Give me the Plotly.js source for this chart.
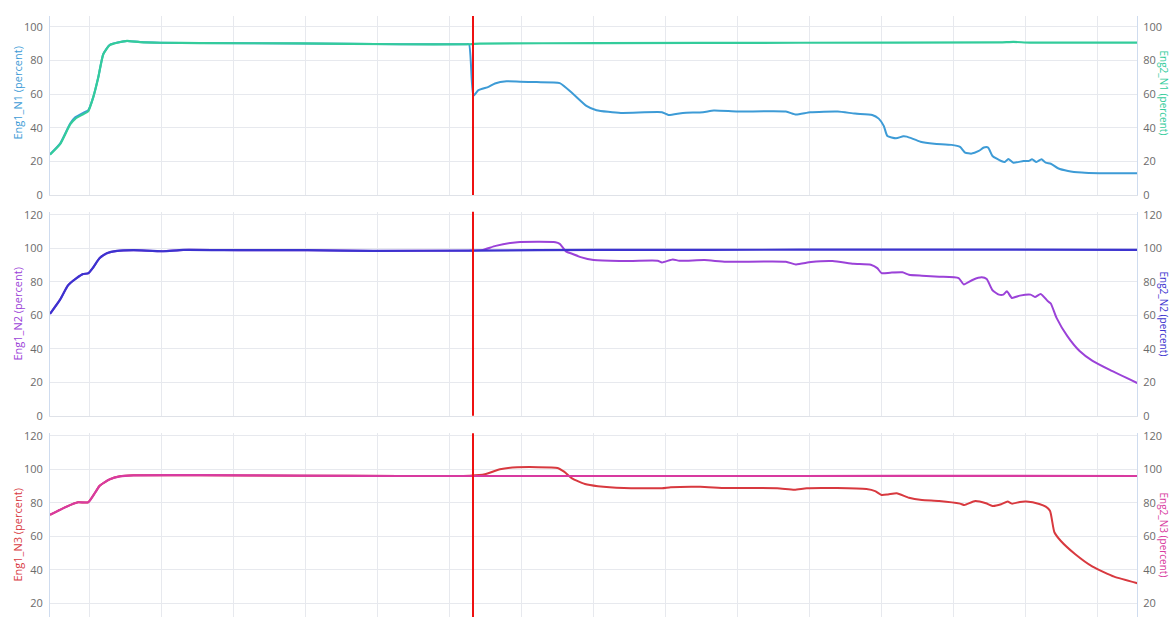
<!DOCTYPE html>
<html>
<head>
<meta charset="utf-8">
<script src="https://cdn.plot.ly/plotly-3.0.1.min.js"></script>
<style>
html,body{margin:0;padding:0;background:#fff;overflow:hidden;}
#chart{width:1169px;height:617px;}
</style>
</head>
<body>
<div id="chart"></div>
<script>
// ---- Data (time in seconds, values in percent) ----
const eng1N1_t = [0,1.4,2.8,3.5,4.6,5.3,6.0,6.7,7.4,8.3,10.2,10.7,12.5,15.3,20.8,34.7,48.6,57.7,58.2,58.8,59.5,60.9,61.8,63.4,65.3,67.6,70.8,72.7,74.5,75.9,79.3,85.0,85.9,87.9,90.7,92.2,95.5,102.2,103.6,105.6,109.4,111.8,114.2,115.1,115.8,116.3,117.5,118.5,119.0,120.9,122.8,125.2,126.4,127.1,128.0,129.0,129.7,130.3,130.9,132.1,132.6,133.1,133.8,135.2,135.9,136.4,137.0,137.7,138.3,139.0,140.0,141.4,143.3,145.7,151];
const eng1N1_v = [24.2,30.5,42.5,46.2,48.8,50.3,58,69.8,83.7,89.3,91.3,91.6,90.9,90.5,90.3,90.1,89.6,89.6,89.6,58.9,62.3,64.3,66.3,67.6,67.3,67.1,66.5,59.9,53,50.4,48.8,49.2,47.6,48.8,49.2,50.2,49.6,49.6,47.8,49.2,49.6,48.4,47.6,45.4,41.1,35.1,33.7,34.9,34.7,31.7,30.5,29.8,28.6,25.2,24.6,26.2,28.2,28.2,23.2,20.2,19.6,21.4,19.2,20.2,20.2,21.2,19.6,21.2,19.2,18.6,15.9,14.3,13.3,12.9,12.9];

const eng2N1_t = [0,1.4,2.8,3.5,4.6,5.3,6.0,6.7,7.4,8.3,10.2,10.7,12.5,15.3,20.8,34.7,48.6,58.3,59.7,76.4,104.2,131.9,133.8,136.1,151];
const eng2N1_v = [24,30.2,42,45.3,48,49.7,58,69.8,83.7,89.1,91.3,91.6,90.9,90.5,90.3,90.1,89.6,89.6,90,90.3,90.5,90.7,91,90.6,90.6];

const eng1N2_t = [0,1.4,2.5,3.7,4.6,5.3,6.0,6.9,7.9,9.3,11.6,15.7,18.5,26.4,35.7,44.9,58.3,60.1,61.9,64.9,70.2,70.8,71.7,72.5,73.7,75.5,79.1,84.4,85.0,86.5,87.4,90.9,93.9,102.2,103.6,105.7,108.7,111.6,114.0,114.9,115.5,116.7,118.4,119.3,121.1,123.5,126.2,126.9,128.2,129.4,130.1,130.9,131.8,132.4,132.9,133.6,134.7,136.2,136.8,137.6,138.6,139.0,139.8,141.3,143.0,144.8,147.2,151];
const eng1N2_v = [60.8,69.3,77.8,82.2,84.6,85,88.5,94.1,97,98.4,98.8,98.2,99,98.8,98.8,98.4,98.6,99,101.4,103.6,103.6,102.6,98,96.7,94.7,92.9,92.3,92.5,91.5,93.3,92.5,92.9,91.9,91.9,90.3,91.7,92.3,90.7,90.1,88.1,85.1,85.4,85.6,84.2,83.6,83,82.2,78.4,81.2,82.6,81.6,74.9,72.3,72.3,74.3,70.3,71.7,72.3,70.9,72.7,68.3,67,58.4,47.5,38.6,32.7,27.3,19.5];

const eng2N2_t = [0,1.4,2.5,3.7,4.6,5.3,6.0,6.9,7.9,9.3,11.6,15.7,18.5,26.4,35.7,44.9,58.8,76.4,104.2,131.9,151];
const eng2N2_v = [60.8,69.3,77.8,82.2,84.6,85,88.5,94.1,97,98.4,98.8,98.2,99,98.8,98.8,98.4,98.6,99,99.1,99.2,99];

const eng1N3_t = [0,2.3,3.9,5.3,6.3,6.9,8.3,9.7,11.6,20.8,34.7,48.6,58.3,60.4,62.5,64.9,70.5,71.4,72.5,74.3,76.1,79.7,85.0,86.2,90.3,93.9,101.0,103.4,105.1,109.3,113.4,114.6,115.5,116.4,117.6,119.3,121.1,123.5,126.4,127.0,128.5,130.0,130.9,132.1,133.0,133.6,134.7,135.6,137.4,138.3,138.9,139.5,140.4,142.4,144.8,147.8,151];
const eng1N3_v = [72.8,77.7,80.3,80.3,86.3,90.2,94,95.8,96.4,96.5,96.2,96,96.2,97,100,101.2,100.8,98.6,94.6,91.2,89.9,88.8,88.7,89.3,89.6,88.8,88.7,87.8,88.7,88.8,88.2,87,84.7,85,85.7,83,81.7,81.1,79.5,78.7,81.1,79.7,78.1,79.1,80.7,79.5,80.5,80.7,79.3,77.7,75.1,62.4,57.2,49.3,41.9,35.9,32];

const eng2N3_t = [0,2.3,3.9,5.3,6.3,6.9,8.3,9.7,11.6,20.8,34.7,48.6,58.8,76.4,104.2,131.9,151];
const eng2N3_v = [72.8,77.7,80.3,80.3,86.3,90.2,94,95.8,96.4,96.5,96.2,96,96,96,96,96.1,96];

const cursorTime = 58.75;
const leftTitles  = ["Eng1_N1 (percent)", "Eng1_N2 (percent)", "Eng1_N3 (percent)"];
const rightTitles = ["Eng2_N1 (percent)", "Eng2_N2 (percent)", "Eng2_N3 (percent)"];

// ---- Styles ----
const C = {
  n1a: "#3d9bd6", n1b: "#33cc9b",
  n2a: "#9b42d8", n2b: "#3c33cf",
  n3a: "#d8393f", n3b: "#d83aa0"
};
const FONT = "Open Sans, Noto Sans, sans-serif";
const W = 1169, H = 617, ML = 50, MR = 32, MT = 16, MB = 0;
const pw = W - ML - MR, ph = H - MT - MB;
const px2x = p => (p - ML) / pw;
const py2y = p => (H - MB - p) / ph;

function line(x, y, xa, ya, color, name, w) {
  return {x: x, y: y, xaxis: xa, yaxis: ya, type: "scatter", mode: "lines",
          name: name, line: {color: color, width: w || 2, shape: "spline", smoothing: 0.5},
          hoverinfo: "x+y+name"};
}

const data = [
  line(eng1N1_t, eng1N1_v, "x", "y", C.n1a, "Eng1_N1"),
  line(eng2N1_t, eng2N1_v, "x", "y2", C.n1b, "Eng2_N1", 2.2),
  line(eng1N2_t, eng1N2_v, "x2", "y3", C.n2a, "Eng1_N2"),
  line(eng2N2_t, eng2N2_v, "x2", "y4", C.n2b, "Eng2_N2", 2.2),
  line(eng1N3_t, eng1N3_v, "x3", "y5", C.n3a, "Eng1_N3"),
  line(eng2N3_t, eng2N3_v, "x3", "y6", C.n3b, "Eng2_N3", 2.2)
];

const gridC = "#e7e9ee";
function xax(anchor, showline) {
  return {anchor: anchor, range: [0, pw / 7.2], showticklabels: false, ticks: "",
          tick0: 5.45, dtick: 10, gridcolor: gridC, gridwidth: 1, zeroline: false,
          showline: showline, linecolor: "#dfe2e8", linewidth: 1, fixedrange: true};
}
function yleft(domain, range) {
  return {domain: domain, range: range, dtick: 20, tick0: 0, gridcolor: gridC, zeroline: false,
          showline: true, linecolor: "#cfdcef", linewidth: 1, ticks: "", ticklabelstandoff: 4,
          tickfont: {family: FONT, size: 11, color: "#6b6b6b"}, fixedrange: true};
}
function yright(over, anchor, range) {
  return {overlaying: over, anchor: anchor, side: "right", range: range, dtick: 20, tick0: 0,
          showgrid: false, zeroline: false, showline: true, linecolor: "#cfdcef", linewidth: 1,
          ticks: "", ticklabelstandoff: 3, tickfont: {family: FONT, size: 11, color: "#6b6b6b"},
          fixedrange: true};
}

const d1 = [py2y(195), 1];
const d2 = [py2y(415.7), py2y(211.7)];
const d3 = [0, py2y(433.3)];
const r1 = [0, 106.4], r2 = [0, 121.8], r3 = [11.8, 121.5];

const titleY = [py2y(93), py2y(314), py2y(535)];
const titleColL = [C.n1a, C.n2a, C.n3a];
const titleColR = [C.n1b, C.n2b, C.n3b];
const annotations = [];
for (let i = 0; i < 3; i++) {
  annotations.push({xref: "paper", yref: "paper", x: px2x(16.5), y: titleY[i], text: leftTitles[i],
    textangle: -90, showarrow: false, xanchor: "center", yanchor: "middle",
    font: {family: FONT, size: 11, color: titleColL[i]}});
  annotations.push({xref: "paper", yref: "paper", x: px2x(1163.5), y: titleY[i], text: rightTitles[i],
    textangle: 90, showarrow: false, xanchor: "center", yanchor: "middle", borderpad: 0,
    font: {family: FONT, size: 10, color: titleColR[i]}});
}

const shapes = ["y", "y3", "y5"].map((ya, i) => ({
  type: "line", xref: ["x", "x2", "x3"][i], yref: ya + " domain",
  x0: cursorTime, x1: cursorTime, y0: 0, y1: 1,
  line: {color: "#ee1111", width: 2}, layer: "above"
}));

const layout = {
  width: W, height: H,
  margin: {l: ML, r: MR, t: MT, b: MB, pad: 0},
  paper_bgcolor: "#ffffff", plot_bgcolor: "#ffffff",
  showlegend: false,
  font: {family: FONT, size: 11, color: "#6b6b6b"},
  xaxis: xax("y", true),
  xaxis2: Object.assign(xax("y3", true), {matches: "x"}),
  xaxis3: Object.assign(xax("y5", false), {matches: "x"}),
  yaxis: yleft(d1, r1),
  yaxis2: yright("y", "x", r1),
  yaxis3: yleft(d2, r2),
  yaxis4: yright("y3", "x2", r2),
  yaxis5: yleft(d3, r3),
  yaxis6: yright("y5", "x3", r3),
  annotations: annotations,
  shapes: shapes
};

Plotly.newPlot("chart", data, layout, {displayModeBar: false, staticPlot: false});
</script>
</body>
</html>
